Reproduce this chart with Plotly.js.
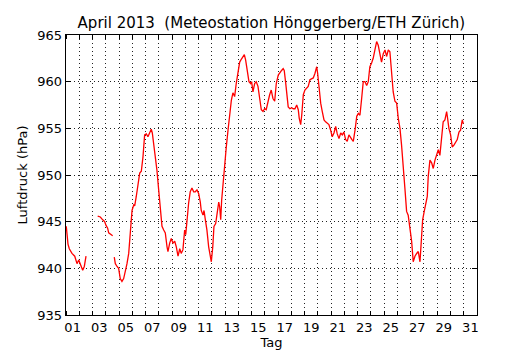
<!DOCTYPE html>
<html>
<head>
<meta charset="utf-8">
<script src="https://cdn.plot.ly/plotly-3.0.1.min.js"></script>
<style>html,body{margin:0;padding:0;background:#fff;}#chart{width:530px;height:350px;}</style>
</head>
<body>
<div id="chart"></div>
<script>
// Day of month (fractional, 1.0 = 1 April 00:00); null marks a data gap
const day = [
  1.02,1.08,1.15,1.25,1.45,1.66,1.83,1.96,2.08,2.26,2.38,2.51,
  null,
  3.39,3.59,3.77,3.92,4.02,4.14,4.22,4.39,4.52,
  null,
  4.64,4.72,4.85,4.97,5.09,5.22,5.35,5.47,5.60,5.73,5.85,5.98,6.11,6.18,6.30,6.43,6.56,6.68,6.81,6.93,
  7.06,7.18,7.31,7.43,7.51,7.61,7.73,7.86,7.99,8.11,8.24,8.37,8.49,8.62,8.69,8.82,8.94,
  9.07,9.20,9.32,9.45,9.58,9.69,9.82,9.95,10.03,10.12,10.25,10.37,10.50,10.63,10.75,10.88,
  11.01,11.13,11.20,11.33,11.41,11.50,11.63,11.76,11.86,11.96,12.07,12.16,12.29,12.41,12.52,12.59,12.67,12.74,12.86,12.97,
  13.09,13.22,13.34,13.47,13.59,13.72,13.84,13.97,14.10,14.22,14.35,14.45,14.55,14.67,14.80,14.93,
  15.00,15.10,15.23,15.35,15.48,15.61,15.73,15.86,15.98,16.10,16.23,16.36,16.48,16.61,16.74,16.86,
  17.01,17.14,17.26,17.38,17.46,17.56,17.69,17.76,17.89,18.02,18.14,18.27,18.40,18.52,18.59,18.70,18.78,18.90,
  19.02,19.15,19.27,19.40,19.53,19.65,19.78,19.91,19.98,20.08,20.21,20.33,20.46,20.58,20.70,20.83,20.96,
  21.08,21.21,21.34,21.46,21.59,21.72,21.84,21.96,22.09,22.21,22.34,22.57,22.67,22.82,22.93,
  23.05,23.17,23.30,23.42,23.55,23.68,23.80,23.92,24.05,24.17,24.30,24.43,24.55,24.68,24.80,24.93,
  25.06,25.18,25.31,25.43,25.56,25.68,25.81,25.94,26.06,26.19,26.31,26.44,26.56,26.69,26.81,26.94,
  27.07,27.19,27.32,27.45,27.57,27.70,27.77,27.90,28.02,28.15,28.25,28.32,28.45,28.58,28.70,28.83,28.95,
  29.08,29.20,29.33,29.45,29.58,29.71,29.78,29.88,30.01,30.13,30.26,30.39,30.51,30.64,30.76,30.89,30.97
];
// Air pressure in hPa
const pressure = [
  944.5,943.6,942.6,942.1,941.6,941.3,940.5,940.9,940.4,939.8,940.2,941.3,
  null,
  945.6,945.5,945.2,945.0,944.6,944.3,943.8,943.6,943.5,
  null,
  941.2,940.5,940.2,940.0,938.9,938.6,938.9,939.6,940.5,941.6,943.8,946.2,946.8,946.7,947.7,949.1,950.2,950.4,952.0,954.3,
  954.4,954.1,954.6,954.9,954.5,953.4,952.0,950.5,948.4,946.2,944.5,944.1,943.8,942.3,941.8,942.7,943.2,
  942.7,942.9,942.3,941.3,942.1,941.6,942.0,944.1,943.6,945.2,947.0,948.2,948.6,948.2,948.2,948.4,
  948.0,947.1,946.2,945.7,946.2,945.3,944.1,942.3,941.3,940.7,942.3,944.5,944.8,946.2,947.1,946.6,945.2,947.3,949.5,951.6,
  953.0,954.8,956.6,958.0,958.8,958.4,959.8,961.2,962.1,962.4,962.7,962.9,962.3,961.1,960.0,959.8,
  960.0,958.9,959.8,960.0,959.5,958.2,957.0,956.8,957.1,957.0,957.9,958.6,959.1,958.2,957.9,959.8,
  960.7,960.9,961.2,961.4,961.2,960.0,958.2,957.3,957.1,957.2,957.1,957.1,957.5,957.0,956.1,955.4,956.4,958.6,
  959.1,959.3,959.5,960.2,960.3,960.4,960.9,961.6,960.9,959.3,957.7,956.8,955.9,955.7,955.5,955.4,954.8,
  954.1,954.5,955.2,954.4,953.9,954.5,954.3,954.6,953.8,953.6,954.3,953.8,953.6,955.0,956.3,
  956.6,956.4,958.2,960.0,960.0,959.6,960.0,961.6,962.0,962.5,963.4,964.3,963.9,962.7,962.1,963.0,
  963.4,962.7,963.4,963.2,961.1,958.9,957.9,957.7,956.1,955.0,953.2,951.1,948.6,946.1,945.7,944.3,
  942.9,940.7,941.3,941.6,941.8,940.7,942.3,945.2,946.1,947.0,947.7,949.8,951.6,951.3,950.7,951.6,952.1,
  952.7,952.1,953.8,955.7,955.9,956.8,956.1,955.0,954.3,953.0,953.2,953.6,953.8,954.6,954.8,955.9,955.5
];
const dayLabelPos = [1.5,3.5,5.5,7.5,9.5,11.5,13.5,15.5,17.5,19.5,21.5,23.5,25.5,27.5,29.5,31.5];
const dayLabels = ["01","03","05","07","09","11","13","15","17","19","21","23","25","27","29","31"];
const yTicks = [935,940,945,950,955,960,965];

const gridDash = "1px,3px";
const trace = {
  x: day, y: pressure, type: 'scatter', mode: 'lines',
  line: {color: '#ff0000', width: 1.3}, connectgaps: false, hoverinfo: 'skip'
};
const layout = {
  width: 530, height: 350,
  margin: {l: 66, r: 53, t: 35, b: 35},
  paper_bgcolor: '#fff', plot_bgcolor: '#fff',
  font: {family: 'DejaVu Sans, sans-serif', size: 13, color: '#000'},
  showlegend: false,
  title: {text: 'April 2013  (Meteostation Hönggerberg/ETH Zürich)', font: {size: 15, color: '#000'},
          x: 0.512, xanchor: 'center', yref: 'container', y: 0.935, yanchor: 'middle'},
  xaxis: {
    range: [1, 32], tickmode: 'array', tickvals: dayLabelPos, ticktext: dayLabels,
    ticks: '', showgrid: false, zeroline: false,
    showline: true, linecolor: '#000', linewidth: 1.3, mirror: 'allticks',
    tickfont: {size: 13},
    minor: {tickmode: 'linear', tick0: 1, dtick: 1, ticks: 'inside', ticklen: 4, tickcolor: '#000', tickwidth: 1,
            showgrid: true, gridcolor: '#222', gridwidth: 1, griddash: gridDash},
    title: {text: 'Tag', font: {size: 13}, standoff: 2}
  },
  yaxis: {
    range: [935, 965], tickmode: 'array', tickvals: yTicks,
    ticks: 'inside', ticklen: 5, tickcolor: '#000', zeroline: false,
    showline: true, linecolor: '#000', linewidth: 1.3, mirror: 'allticks',
    showgrid: true, gridcolor: '#222', gridwidth: 1, griddash: gridDash,
    tickfont: {size: 13},
    title: {text: 'Luftdruck (hPa)', font: {size: 13}, standoff: 6}
  }
};
Plotly.newPlot('chart', [trace], layout, {staticPlot: true, displayModeBar: false});
</script>
</body>
</html>
